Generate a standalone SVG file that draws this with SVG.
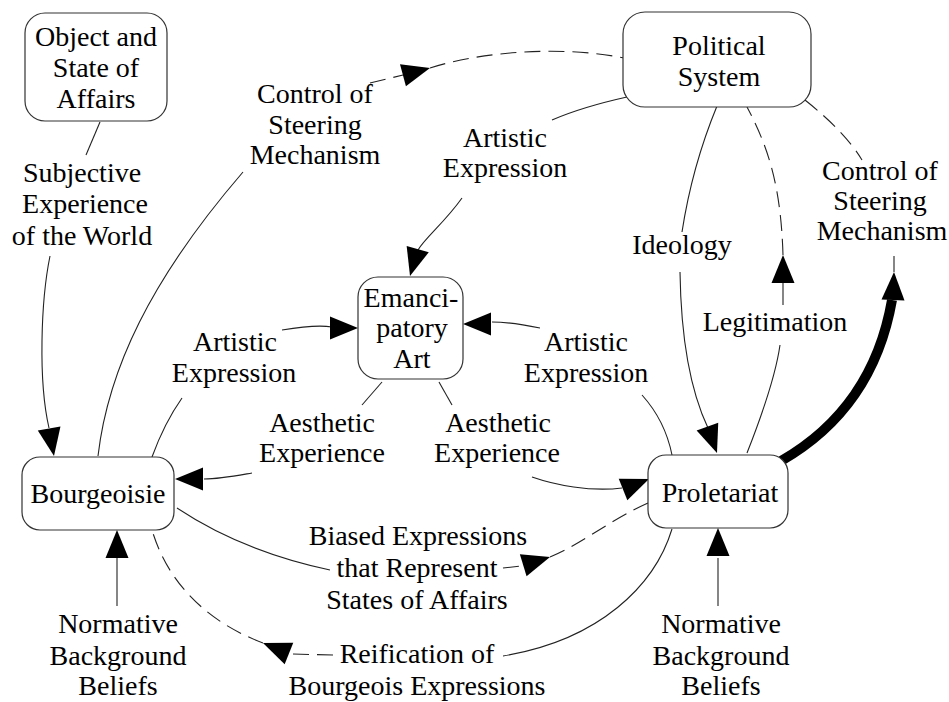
<svg xmlns="http://www.w3.org/2000/svg" xmlns:xlink="http://www.w3.org/1999/xlink" width="949" height="702" viewBox="0 0 949 702">
<style>
text{font-family:"Liberation Serif","Times New Roman",serif;font-size:28px;fill:#000;text-anchor:middle}
.box{fill:#fff;stroke:#333;stroke-width:1.2}
.ln{fill:none;stroke:#222;stroke-width:1.1}
.dash{fill:none;stroke:#222;stroke-width:1.1;stroke-dasharray:16 8}
.thick{fill:none;stroke:#000;stroke-width:10}
.ah{fill:#000}
</style>
<defs>
<path id="ah" class="ah" d="M0,0 L-28,-11.5 L-28,11.5 Z"/>
</defs>
<rect width="949" height="702" fill="#fff"/>

<g id="connectors">
<!-- Object -> Subjective Experience -> Bourgeoisie -->
<path class="ln" d="M100,122 L86,155"/>
<path class="ln" d="M50,256 C41,300 38,380 49,428"/>
<use xlink:href="#ah" transform="translate(54,456) rotate(80)"/>
<!-- Bourgeoisie -> Control of Steering -> Political -->
<path class="ln" d="M98,456 C108,370 150,280 243,172"/>
<path class="dash" d="M370,83 L403,75"/>
<use xlink:href="#ah" transform="translate(430,68) rotate(-15)"/>
<path class="dash" d="M430,68 C480,52 560,45 624,58"/>
<!-- Political -> Artistic Expression -> Emancipatory -->
<path class="ln" d="M627,97 C600,103 575,110 552,120"/>
<path class="ln" d="M462,198 C445,222 425,238 418,250"/>
<use xlink:href="#ah" transform="translate(410,276) rotate(106)"/>
<!-- Political -> Ideology -> Proletariat -->
<path class="ln" d="M717,106 C703,140 690,180 682,232"/>
<path class="ln" d="M680,272 C681,340 690,390 708,428"/>
<use xlink:href="#ah" transform="translate(717,453) rotate(70)"/>
<!-- Proletariat -> Legitimation -> Political -->
<path class="ln" d="M747,453 C760,420 775,380 780,345"/>
<path class="ln" d="M783,305 L783,283"/>
<use xlink:href="#ah" transform="translate(783,255) rotate(-90)"/>
<path class="dash" d="M783,255 C781,190 770,150 747,107"/>
<!-- Proletariat -> Control of Steering (right) -> Political -->
<path class="dash" d="M805,100 C830,120 850,140 862,160"/>
<path class="thick" d="M781,461 C835,430 878,380 892,300"/>
<use xlink:href="#ah" transform="translate(894,272) rotate(-88)"/>
<path class="ln" d="M894,272 L894,256"/>
<!-- Bourgeoisie -> Artistic Expression -> Emancipatory -->
<path class="ln" d="M152,457 C160,435 170,415 182,398"/>
<path class="ln" d="M282,330 C300,327 320,325 332,327"/>
<use xlink:href="#ah" transform="translate(358,328) rotate(0)"/>
<!-- Proletariat -> Artistic Expression -> Emancipatory -->
<path class="ln" d="M672,455 C668,435 660,415 642,395"/>
<path class="ln" d="M540,328 C525,325 510,322 492,322"/>
<use xlink:href="#ah" transform="translate(463,324) rotate(180)"/>
<!-- Emancipatory -> Aesthetic Experience -> Bourgeoisie -->
<path class="ln" d="M382,382 L362,405"/>
<path class="ln" d="M252,473 C235,476 220,479 204,479"/>
<use xlink:href="#ah" transform="translate(175,479) rotate(180)"/>
<!-- Emancipatory -> Aesthetic Experience -> Proletariat -->
<path class="ln" d="M439,382 L452,405"/>
<path class="ln" d="M532,477 C555,485 590,492 622,488"/>
<use xlink:href="#ah" transform="translate(649,479) rotate(-22)"/>
<!-- Bourgeoisie -> Biased Expressions -> Proletariat -->
<path class="ln" d="M177,508 C210,530 260,555 330,570"/>
<path class="dash" d="M503,568 L521,566"/>
<use xlink:href="#ah" transform="translate(550,557) rotate(-17)"/>
<path class="dash" d="M550,557 C580,545 610,520 648,503"/>
<!-- Proletariat -> Reification -> Bourgeoisie -->
<path class="ln" d="M672,529 C655,585 600,640 503,656"/>
<path class="dash" d="M333,655 L290,654"/>
<use xlink:href="#ah" transform="translate(263,643) rotate(202)"/>
<path class="dash" d="M263,643 C215,625 170,590 152,530"/>
<!-- Normative -> Bourgeoisie / Proletariat -->
<path class="ln" d="M117,606 L117,558"/>
<use xlink:href="#ah" transform="translate(117,530) rotate(-90)"/>
<path class="ln" d="M718,606 L718,558"/>
<use xlink:href="#ah" transform="translate(718,528) rotate(-90)"/>

<!-- edge labels -->
<text x="82" y="182">Subjective</text>
<text x="85" y="213">Experience</text>
<text x="82" y="245">of the World</text>
<text x="315" y="103">Control of</text>
<text x="315" y="134">Steering</text>
<text x="315" y="164">Mechanism</text>
<text x="505" y="147">Artistic</text>
<text x="505" y="177">Expression</text>
<text x="880" y="180">Control of</text>
<text x="880" y="210">Steering</text>
<text x="882" y="240">Mechanism</text>
<text x="682" y="254">Ideology</text>
<text x="775" y="331">Legitimation</text>
<text x="235" y="351">Artistic</text>
<text x="234" y="382">Expression</text>
<text x="586" y="351">Artistic</text>
<text x="586" y="382">Expression</text>
<text x="322" y="432">Aesthetic</text>
<text x="322" y="462">Experience</text>
<text x="498" y="432">Aesthetic</text>
<text x="497" y="462">Experience</text>
<text x="418" y="545">Biased Expressions</text>
<text x="417" y="577">that Represent</text>
<text x="417" y="609">States of Affairs</text>
<text x="417" y="663">Reification of</text>
<text x="417" y="695">Bourgeois Expressions</text>
<text x="118" y="633">Normative</text>
<text x="118" y="665">Background</text>
<text x="118" y="695">Beliefs</text>
<text x="721" y="633">Normative</text>
<text x="721" y="665">Background</text>
<text x="721" y="695">Beliefs</text>
</g>

<g id="node-object">
<rect class="box" x="25" y="13" width="142" height="108" rx="20"/>
<text x="96" y="46">Object and</text>
<text x="96" y="77">State of</text>
<text x="96" y="108">Affairs</text>
</g>
<g id="node-political">
<rect class="box" x="623" y="12" width="188" height="95" rx="22"/>
<text x="719" y="55">Political</text>
<text x="719" y="86">System</text>
</g>
<g id="node-emancipatory">
<rect class="box" x="358" y="277" width="105" height="102" rx="20"/>
<text x="411" y="307">Emanci-</text>
<text x="412" y="337">patory</text>
<text x="412" y="368">Art</text>
</g>
<g id="node-bourgeoisie">
<rect class="box" x="22" y="457" width="152" height="73" rx="18"/>
<text x="98" y="503">Bourgeoisie</text>
</g>
<g id="node-proletariat">
<rect class="box" x="648" y="455" width="140" height="73" rx="18"/>
<text x="720" y="502">Proletariat</text>
</g>
</svg>
